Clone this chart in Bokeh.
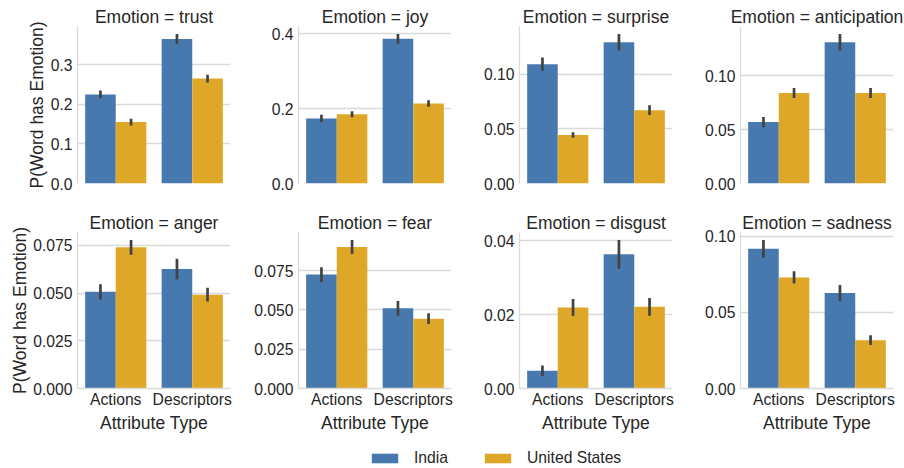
from bokeh.plotting import figure
from bokeh.layouts import row, column
from bokeh.models import (ColumnDataSource, Range1d, FactorRange, FixedTicker,
                          PrintfTickFormatter, Legend, LegendItem)
from bokeh.transform import dodge
from bokeh.embed import file_html
from bokeh.resources import INLINE

# ---------------- data ----------------
emotions = ["trust", "joy", "surprise", "anticipation",
            "anger", "fear", "disgust", "sadness"]
attribute_types = ["Actions", "Descriptors"]
countries = ["India", "United States"]

india_actions = [0.225, 0.174, 0.109, 0.057, 0.0507, 0.0725, 0.0048, 0.0918]
india_descriptors = [0.365, 0.387, 0.129, 0.131, 0.0626, 0.0510, 0.0363, 0.0627]
us_actions = [0.155, 0.185, 0.0443, 0.084, 0.0740, 0.0900, 0.0219, 0.0730]
us_descriptors = [0.265, 0.214, 0.0670, 0.084, 0.0492, 0.0444, 0.0221, 0.0317]

india_actions_err = [0.0097, 0.0097, 0.0060, 0.0048, 0.0040, 0.0047, 0.0014, 0.0058]
india_descriptors_err = [0.0125, 0.0130, 0.0076, 0.0077, 0.0054, 0.0047, 0.0039, 0.0053]
us_actions_err = [0.0085, 0.0080, 0.0025, 0.0046, 0.0039, 0.0045, 0.0023, 0.0040]
us_descriptors_err = [0.0097, 0.0090, 0.0045, 0.0046, 0.0036, 0.0034, 0.0024, 0.0032]

y_ticks = [[0.0, 0.1, 0.2, 0.3], [0.0, 0.2, 0.4], [0.0, 0.05, 0.10], [0.0, 0.05, 0.10],
           [0.0, 0.025, 0.050, 0.075], [0.0, 0.025, 0.050, 0.075], [0.0, 0.02, 0.04],
           [0.0, 0.05, 0.10]]
y_tick_format = ["%.1f", "%.1f", "%.2f", "%.2f", "%.3f", "%.3f", "%.2f", "%.2f"]

# ---------------- style ----------------
COLORS = {"India": "#4879ae", "United States": "#dfa727"}
ERR_COLOR = "#424242"
TEXT = "#262626"
GRID = "#dadada"
FONT = "Liberation Sans"
FRAME_W, FRAME_H = 153, 157


def make_panel(i):
    col = i % 4
    top_row = i < 4
    left = 77 if col == 0 else 50
    right = 10 if col == 3 else 18
    top = 26 if top_row else 36
    bottom = 13 if top_row else 46
    p = figure(width=left + FRAME_W + right, height=top + FRAME_H + bottom,
               x_range=FactorRange(factors=attribute_types, range_padding=0,
                                   factor_padding=0),
               output_backend="svg", toolbar_location=None,
               min_border_left=left, min_border_right=right,
               min_border_top=top, min_border_bottom=bottom)
    hi = max(india_actions[i] + india_actions_err[i],
             india_descriptors[i] + india_descriptors_err[i],
             us_actions[i] + us_actions_err[i],
             us_descriptors[i] + us_descriptors_err[i])
    p.y_range = Range1d(0, hi * 1.05)

    for country, vals, errs, off in [
        ("India", [india_actions[i], india_descriptors[i]],
         [india_actions_err[i], india_descriptors_err[i]], -0.2),
        ("United States", [us_actions[i], us_descriptors[i]],
         [us_actions_err[i], us_descriptors_err[i]], 0.2),
    ]:
        src = ColumnDataSource(dict(
            attr=attribute_types, val=vals,
            lo=[v - e for v, e in zip(vals, errs)],
            hi=[v + e for v, e in zip(vals, errs)]))
        x = dodge("attr", off, range=p.x_range)
        p.vbar(x=x, top="val", bottom=0, width=0.4, source=src,
               fill_color=COLORS[country], line_color=None)
        p.segment(x0=x, x1=x, y0="lo", y1="hi", source=src,
                  line_color=ERR_COLOR, line_width=2.7)

    p.title.text = "Emotion = " + emotions[i]
    p.title.align = "center"
    p.title.text_font = FONT
    p.title.text_font_size = "17.5px"
    p.title.text_font_style = "normal"
    p.title.text_color = TEXT
    p.title.standoff = 0
    p.title.offset = 0

    p.outline_line_color = None
    p.background_fill_color = "white"
    p.border_fill_color = "white"
    p.xgrid.grid_line_color = None
    p.ygrid.grid_line_color = GRID
    p.ygrid.grid_line_width = 1.3

    p.yaxis.ticker = FixedTicker(ticks=y_ticks[i])
    p.yaxis.formatter = PrintfTickFormatter(format=y_tick_format[i])
    for ax in (p.xaxis[0], p.yaxis[0]):
        ax.axis_line_color = GRID
        ax.axis_line_width = 1.3
        ax.major_tick_line_color = None
        ax.minor_tick_line_color = None
        ax.major_tick_out = 0
        ax.major_tick_in = 0
        ax.major_label_text_font = FONT
        ax.major_label_text_font_size = "15.7px"
        ax.major_label_text_color = TEXT
        ax.axis_label_text_font = FONT
        ax.axis_label_text_font_size = "17.5px"
        ax.axis_label_text_font_style = "normal"
        ax.axis_label_text_color = TEXT
    p.yaxis.major_label_standoff = 5
    p.yaxis.axis_label_standoff = 1 if top_row else 0
    p.xaxis.major_label_standoff = 2
    p.xaxis.axis_label_standoff = 2
    if col == 0:
        p.yaxis.axis_label = "P(Word has Emotion)"
    if top_row:
        p.xaxis.visible = False
    else:
        p.xaxis.axis_label = "Attribute Type"
    return p


panels = [make_panel(i) for i in range(8)]

# legend strip
lg = figure(width=903, height=32, output_backend="svg", toolbar_location=None,
            min_border_left=0, min_border_right=0, min_border_top=0,
            min_border_bottom=0, x_range=Range1d(1, 2), y_range=Range1d(1, 2))
lg.axis.visible = False
lg.grid.visible = False
lg.outline_line_color = None
items = []
for c in countries:
    r = lg.vbar(x=[0], top=[0], bottom=[0], width=0.1,
                fill_color=COLORS[c], line_color=None)
    items.append(LegendItem(label=c, renderers=[r]))
legend = Legend(items=items, orientation="horizontal", location=(368, 0),
                glyph_width=33, glyph_height=12, label_standoff=13, spacing=33,
                padding=0, margin=0, border_line_color=None,
                background_fill_alpha=0, label_text_font=FONT,
                label_text_font_size="15.7px", label_text_color=TEXT)
lg.add_layout(legend, "center")

layout = column(row(*panels[:4]), row(*panels[4:]), lg)
open("out.html", "w").write(file_html(layout, INLINE))
